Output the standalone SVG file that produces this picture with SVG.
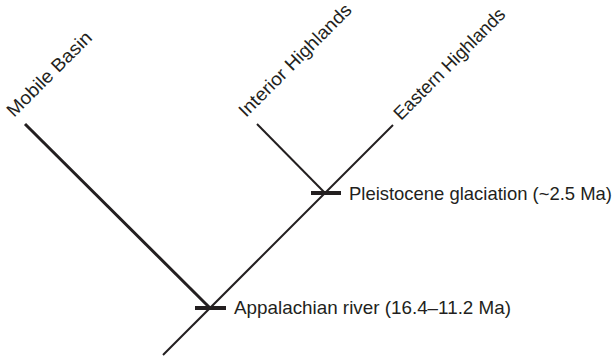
<svg xmlns="http://www.w3.org/2000/svg" width="614" height="357" viewBox="0 0 614 357">
<style>
.br{stroke:#231f20;stroke-width:2;fill:none;stroke-linecap:butt}
.thick{stroke-width:3}
.tick{stroke:#231f20;stroke-width:4}
text{font-family:"Liberation Sans",Arial,sans-serif;font-size:18.5px;fill:#231f20}
</style>
<rect width="614" height="357" fill="#fff"/>
<g id="connectors">
<line class="br thick" x1="25" y1="124" x2="210" y2="308"/>
<line class="br" x1="163" y1="355" x2="393" y2="125"/>
<line class="br" x1="257" y1="124" x2="325" y2="193"/>
</g>
<g id="mobile-basin"><text transform="translate(14,118) rotate(-45)" textLength="112" lengthAdjust="spacingAndGlyphs">Mobile Basin</text></g>
<g id="interior-highlands"><text transform="translate(246,118) rotate(-45)" textLength="151" lengthAdjust="spacingAndGlyphs">Interior Highlands</text></g>
<g id="eastern-highlands"><text transform="translate(401,121) rotate(-45)" textLength="149" lengthAdjust="spacingAndGlyphs">Eastern Highlands</text></g>
<g id="pleistocene">
<line class="tick" x1="311" y1="193" x2="341" y2="193"/>
<text x="349" y="200" textLength="263" lengthAdjust="spacingAndGlyphs">Pleistocene glaciation (~2.5 Ma)</text>
</g>
<g id="appalachian">
<line class="tick" x1="195" y1="308" x2="226" y2="308"/>
<text x="234" y="314" textLength="277" lengthAdjust="spacingAndGlyphs">Appalachian river (16.4–11.2 Ma)</text>
</g>
</svg>
